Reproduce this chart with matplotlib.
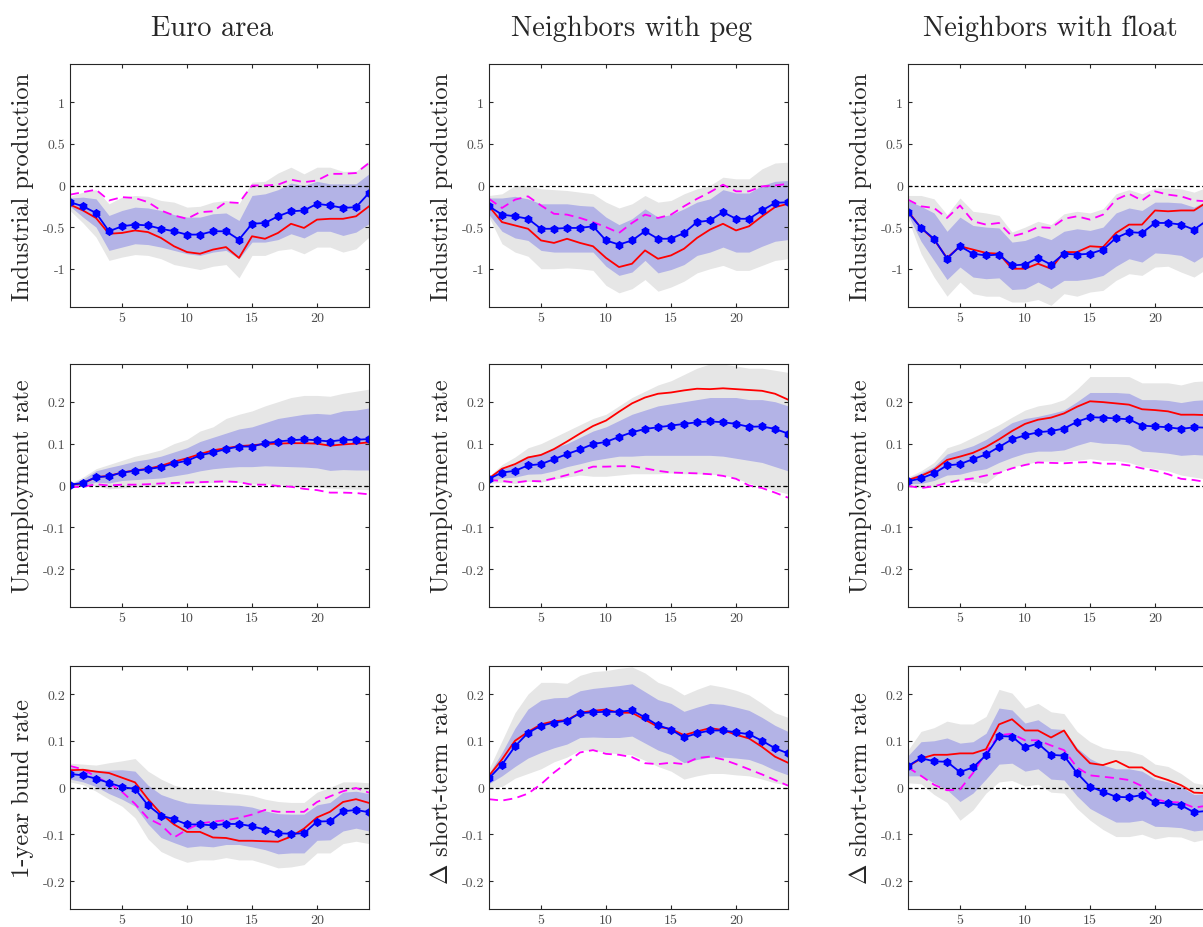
import numpy as np
import matplotlib
matplotlib.use('Agg')
import matplotlib.pyplot as plt

plt.rcParams['font.family'] = 'serif'
plt.rcParams['font.serif'] = ['cmr10']
plt.rcParams['mathtext.fontset'] = 'cm'
plt.rcParams['axes.unicode_minus'] = False
plt.rcParams['axes.formatter.use_mathtext'] = False

h = np.arange(1, 25)

col_titles = ['Euro area', 'Neighbors with peg', 'Neighbors with float']
row_labels = [['Industrial production'] * 3,
              ['Unemployment rate'] * 3,
              ['1-year bund rate', r'$\Delta$ short-term rate', r'$\Delta$ short-term rate']]
row_ylims = [1.46, 0.29, 0.26]
row_yticks = [[-1, -0.5, 0, 0.5, 1], [-0.2, -0.1, 0, 0.1, 0.2], [-0.2, -0.1, 0, 0.1, 0.2]]
xticks = [5, 10, 15, 20]

# ---- Euro area, industrial production
ea_ip_irf = [-0.20, -0.25, -0.33, -0.55, -0.49, -0.47, -0.48, -0.52, -0.55, -0.59, -0.59, -0.55,
             -0.55, -0.65, -0.46, -0.45, -0.37, -0.31, -0.30, -0.22, -0.24, -0.27, -0.26, -0.09]
ea_ip_red = [-0.23, -0.30, -0.39, -0.58, -0.57, -0.54, -0.56, -0.63, -0.73, -0.80, -0.82, -0.77,
             -0.74, -0.87, -0.61, -0.64, -0.57, -0.46, -0.51, -0.41, -0.40, -0.40, -0.37, -0.25]
ea_ip_mag = [-0.11, -0.08, -0.05, -0.18, -0.14, -0.15, -0.20, -0.30, -0.36, -0.40, -0.32, -0.31,
             -0.20, -0.21, 0.00, 0.00, 0.01, 0.07, 0.04, 0.06, 0.14, 0.14, 0.15, 0.27]
ea_ip_hi90 = [-0.13, -0.08, -0.05, -0.22, -0.14, -0.12, -0.13, -0.18, -0.20, -0.26, -0.25, -0.20,
              -0.18, -0.22, 0.04, 0.05, 0.15, 0.22, 0.14, 0.22, 0.22, 0.17, 0.17, 0.30]
ea_ip_lo90 = [-0.30, -0.45, -0.62, -0.90, -0.86, -0.83, -0.84, -0.88, -0.95, -0.98, -1.01, -0.97,
              -0.95, -1.11, -0.84, -0.84, -0.78, -0.76, -0.82, -0.74, -0.74, -0.80, -0.76, -0.62]
ea_ip_hi68 = [-0.15, -0.14, -0.16, -0.36, -0.30, -0.26, -0.27, -0.30, -0.35, -0.38, -0.38, -0.34,
              -0.33, -0.42, -0.12, -0.10, -0.05, 0.03, 0.00, 0.05, 0.02, 0.02, 0.02, 0.14]
ea_ip_lo68 = [-0.25, -0.38, -0.50, -0.78, -0.74, -0.70, -0.71, -0.74, -0.78, -0.82, -0.84, -0.80,
              -0.78, -0.88, -0.68, -0.68, -0.65, -0.58, -0.63, -0.55, -0.55, -0.60, -0.56, -0.46]

# ---- Peg, industrial production
peg_ip_irf = [-0.25, -0.35, -0.37, -0.40, -0.52, -0.52, -0.51, -0.51, -0.49, -0.66, -0.71, -0.66,
              -0.55, -0.64, -0.64, -0.57, -0.44, -0.42, -0.32, -0.40, -0.40, -0.30, -0.21, -0.20]
peg_ip_red = [-0.25, -0.44, -0.48, -0.52, -0.66, -0.69, -0.64, -0.69, -0.73, -0.87, -0.98, -0.94,
              -0.78, -0.88, -0.84, -0.76, -0.63, -0.53, -0.46, -0.54, -0.49, -0.37, -0.26, -0.22]
peg_ip_mag = [-0.16, -0.27, -0.17, -0.13, -0.24, -0.34, -0.35, -0.39, -0.44, -0.50, -0.57, -0.45,
              -0.35, -0.39, -0.35, -0.25, -0.16, -0.08, 0.01, -0.07, -0.07, -0.01, 0.00, 0.02]
peg_ip_hi90 = [-0.12, -0.10, 0.00, 0.00, -0.04, -0.05, -0.06, -0.08, -0.10, -0.20, -0.27, -0.22,
               -0.12, -0.20, -0.18, -0.10, -0.04, 0.00, 0.10, 0.08, 0.08, 0.20, 0.27, 0.28]
peg_ip_lo90 = [-0.38, -0.70, -0.80, -0.85, -1.00, -1.00, -0.99, -1.00, -1.02, -1.20, -1.29, -1.24,
               -1.13, -1.27, -1.22, -1.15, -1.05, -1.00, -0.96, -1.02, -1.02, -0.96, -0.90, -0.88]
peg_ip_hi68 = [-0.15, -0.15, -0.13, -0.16, -0.22, -0.22, -0.22, -0.24, -0.25, -0.38, -0.47, -0.40,
               -0.28, -0.38, -0.35, -0.28, -0.20, -0.16, -0.05, -0.09, -0.09, 0.00, 0.05, 0.06]
peg_ip_lo68 = [-0.35, -0.55, -0.63, -0.66, -0.78, -0.80, -0.80, -0.80, -0.80, -0.97, -1.08, -1.04,
               -0.90, -1.05, -1.01, -0.95, -0.84, -0.80, -0.74, -0.80, -0.80, -0.73, -0.67, -0.65]

# ---- Float, industrial production
flt_ip_irf = [-0.32, -0.51, -0.64, -0.88, -0.73, -0.82, -0.84, -0.83, -0.96, -0.95, -0.87, -0.95,
              -0.82, -0.83, -0.82, -0.77, -0.63, -0.56, -0.57, -0.45, -0.45, -0.47, -0.53, -0.42]
flt_ip_red = [-0.31, -0.51, -0.65, -0.87, -0.73, -0.77, -0.81, -0.82, -1.00, -1.00, -0.94, -1.00,
              -0.80, -0.80, -0.73, -0.74, -0.57, -0.47, -0.47, -0.30, -0.31, -0.30, -0.30, -0.20]
flt_ip_mag = [-0.17, -0.25, -0.27, -0.39, -0.24, -0.43, -0.47, -0.45, -0.61, -0.57, -0.50, -0.51,
              -0.40, -0.37, -0.41, -0.35, -0.17, -0.10, -0.18, -0.07, -0.11, -0.13, -0.18, -0.19]
flt_ip_hi90 = [-0.12, -0.12, -0.16, -0.35, -0.15, -0.31, -0.33, -0.36, -0.56, -0.50, -0.43, -0.47,
               -0.34, -0.31, -0.33, -0.28, -0.10, -0.05, -0.10, -0.03, -0.03, -0.04, -0.08, -0.02]
flt_ip_lo90 = [-0.40, -0.82, -1.10, -1.33, -1.16, -1.30, -1.33, -1.33, -1.40, -1.40, -1.37, -1.44,
               -1.30, -1.33, -1.28, -1.26, -1.14, -1.06, -1.08, -0.98, -0.97, -1.04, -1.10, -1.00]
flt_ip_hi68 = [-0.18, -0.25, -0.33, -0.55, -0.38, -0.48, -0.50, -0.51, -0.68, -0.66, -0.60, -0.65,
               -0.55, -0.52, -0.54, -0.50, -0.33, -0.27, -0.30, -0.20, -0.20, -0.21, -0.26, -0.18]
flt_ip_lo68 = [-0.35, -0.67, -0.90, -1.13, -0.98, -1.10, -1.12, -1.11, -1.25, -1.24, -1.16, -1.24,
               -1.14, -1.14, -1.12, -1.08, -0.97, -0.88, -0.92, -0.81, -0.82, -0.84, -0.92, -0.82]

# ---- Euro area, unemployment
ea_ur_irf = [0.002, 0.006, 0.020, 0.022, 0.031, 0.035, 0.039, 0.044, 0.053, 0.059, 0.072, 0.079,
             0.087, 0.093, 0.093, 0.101, 0.105, 0.108, 0.110, 0.108, 0.105, 0.109, 0.109, 0.111]
ea_ur_red = [0.001, 0.005, 0.020, 0.023, 0.031, 0.036, 0.040, 0.047, 0.057, 0.065, 0.075, 0.084,
             0.089, 0.094, 0.096, 0.099, 0.100, 0.101, 0.101, 0.100, 0.095, 0.098, 0.100, 0.103]
ea_ur_mag = [-0.004, -0.003, 0.003, 0.000, 0.002, 0.002, 0.003, 0.005, 0.006, 0.007, 0.008, 0.009,
             0.010, 0.008, 0.002, 0.002, -0.001, -0.003, -0.008, -0.011, -0.017, -0.017, -0.018, -0.021]
ea_ur_hi90 = [0.005, 0.020, 0.040, 0.050, 0.060, 0.070, 0.077, 0.085, 0.100, 0.110, 0.130, 0.140,
              0.160, 0.170, 0.178, 0.190, 0.200, 0.210, 0.215, 0.215, 0.213, 0.220, 0.225, 0.230]
ea_ur_lo90 = [-0.003, -0.002, 0.000, -0.008, -0.006, -0.004, -0.002, 0.000, 0.002, 0.004, 0.006, 0.007,
              0.008, 0.007, 0.004, 0.004, 0.002, 0.000, -0.002, -0.004, -0.006, -0.008, -0.009, -0.010]
ea_ur_hi68 = [0.004, 0.015, 0.035, 0.043, 0.050, 0.058, 0.063, 0.070, 0.080, 0.090, 0.105, 0.115,
              0.125, 0.135, 0.140, 0.150, 0.160, 0.165, 0.170, 0.172, 0.170, 0.178, 0.180, 0.185]
ea_ur_lo68 = [0.000, 0.000, 0.008, 0.006, 0.012, 0.014, 0.016, 0.018, 0.023, 0.028, 0.035, 0.040,
              0.043, 0.045, 0.045, 0.047, 0.046, 0.045, 0.044, 0.042, 0.036, 0.038, 0.037, 0.037]

# ---- Peg, unemployment
peg_ur_irf = [0.016, 0.031, 0.035, 0.048, 0.051, 0.063, 0.075, 0.086, 0.099, 0.104, 0.116, 0.127,
              0.135, 0.139, 0.143, 0.147, 0.151, 0.153, 0.151, 0.147, 0.140, 0.141, 0.135, 0.124]
peg_ur_red = [0.017, 0.040, 0.051, 0.067, 0.073, 0.087, 0.105, 0.124, 0.142, 0.155, 0.176, 0.196,
              0.210, 0.219, 0.222, 0.227, 0.231, 0.230, 0.232, 0.230, 0.228, 0.226, 0.219, 0.205]
peg_ur_mag = [0.013, 0.011, 0.007, 0.011, 0.010, 0.017, 0.025, 0.035, 0.045, 0.045, 0.046, 0.046,
              0.041, 0.035, 0.031, 0.030, 0.029, 0.027, 0.023, 0.016, 0.000, -0.006, -0.017, -0.029]
peg_ur_hi90 = [0.022, 0.050, 0.068, 0.090, 0.100, 0.115, 0.130, 0.145, 0.160, 0.170, 0.190, 0.210,
               0.225, 0.240, 0.250, 0.265, 0.280, 0.290, 0.290, 0.285, 0.280, 0.280, 0.275, 0.270]
peg_ur_lo90 = [0.005, 0.008, 0.005, 0.010, 0.008, 0.015, 0.020, 0.025, 0.022, 0.022, 0.025, 0.028,
               0.028, 0.028, 0.030, 0.028, 0.028, 0.027, 0.025, 0.018, 0.005, -0.002, -0.012, -0.020]
peg_ur_hi68 = [0.020, 0.040, 0.050, 0.070, 0.075, 0.090, 0.100, 0.115, 0.130, 0.140, 0.155, 0.170,
               0.180, 0.190, 0.195, 0.200, 0.205, 0.210, 0.210, 0.210, 0.205, 0.205, 0.200, 0.190]
peg_ur_lo68 = [0.010, 0.018, 0.020, 0.027, 0.028, 0.035, 0.045, 0.052, 0.060, 0.065, 0.070, 0.070,
               0.072, 0.072, 0.072, 0.072, 0.072, 0.072, 0.070, 0.065, 0.060, 0.055, 0.045, 0.035]

# ---- Float, unemployment
flt_ur_irf = [0.010, 0.017, 0.029, 0.048, 0.051, 0.063, 0.074, 0.092, 0.110, 0.120, 0.127, 0.130,
              0.136, 0.152, 0.163, 0.162, 0.160, 0.158, 0.143, 0.141, 0.139, 0.135, 0.139, 0.138]
flt_ur_red = [0.013, 0.023, 0.037, 0.061, 0.069, 0.078, 0.092, 0.110, 0.130, 0.147, 0.157, 0.162,
              0.172, 0.188, 0.201, 0.199, 0.196, 0.193, 0.182, 0.180, 0.177, 0.169, 0.169, 0.168]
flt_ur_mag = [-0.001, -0.006, -0.002, 0.006, 0.013, 0.017, 0.024, 0.030, 0.041, 0.049, 0.055, 0.054,
              0.053, 0.055, 0.056, 0.052, 0.052, 0.048, 0.041, 0.035, 0.027, 0.016, 0.013, 0.008]
flt_ur_hi90 = [0.020, 0.035, 0.055, 0.090, 0.100, 0.115, 0.130, 0.145, 0.163, 0.180, 0.190, 0.195,
               0.205, 0.230, 0.260, 0.260, 0.260, 0.260, 0.245, 0.245, 0.245, 0.240, 0.248, 0.250]
flt_ur_lo90 = [0.000, -0.005, 0.000, 0.008, 0.013, 0.010, 0.005, 0.030, 0.045, 0.050, 0.058, 0.058,
               0.058, 0.060, 0.064, 0.060, 0.060, 0.055, 0.045, 0.040, 0.035, 0.025, 0.020, 0.015]
flt_ur_hi68 = [0.017, 0.030, 0.045, 0.075, 0.085, 0.095, 0.110, 0.130, 0.150, 0.160, 0.165, 0.172,
               0.180, 0.200, 0.222, 0.222, 0.222, 0.220, 0.205, 0.205, 0.203, 0.198, 0.203, 0.205]
flt_ur_lo68 = [0.004, 0.005, 0.012, 0.025, 0.027, 0.035, 0.040, 0.055, 0.067, 0.077, 0.082, 0.082,
               0.085, 0.096, 0.105, 0.101, 0.100, 0.097, 0.082, 0.080, 0.077, 0.072, 0.074, 0.072]

# ---- Euro area, 1-year bund rate
ea_sr_irf = [0.029, 0.026, 0.019, 0.010, 0.001, -0.003, -0.038, -0.060, -0.068, -0.079, -0.079, -0.081,
             -0.078, -0.078, -0.083, -0.090, -0.098, -0.099, -0.098, -0.073, -0.072, -0.051, -0.048, -0.053]
ea_sr_red = [0.037, 0.038, 0.034, 0.031, 0.021, 0.011, -0.025, -0.056, -0.079, -0.095, -0.095, -0.107,
             -0.108, -0.114, -0.114, -0.115, -0.116, -0.105, -0.088, -0.064, -0.052, -0.031, -0.025, -0.033]
ea_sr_mag = [0.046, 0.039, 0.023, 0.009, -0.009, -0.035, -0.066, -0.080, -0.107, -0.090, -0.077, -0.073,
             -0.070, -0.065, -0.058, -0.048, -0.052, -0.052, -0.052, -0.031, -0.019, -0.008, -0.001, -0.011]
ea_sr_hi90 = [0.052, 0.050, 0.048, 0.053, 0.057, 0.062, 0.035, 0.018, 0.005, -0.002, -0.003, -0.005,
              -0.010, -0.013, -0.017, -0.025, -0.030, -0.032, -0.032, -0.010, 0.000, 0.012, 0.012, 0.010]
ea_sr_lo90 = [0.012, 0.006, -0.008, -0.025, -0.040, -0.065, -0.110, -0.137, -0.150, -0.160, -0.155, -0.155,
              -0.150, -0.155, -0.155, -0.163, -0.172, -0.170, -0.165, -0.140, -0.140, -0.120, -0.115, -0.120]
ea_sr_hi68 = [0.043, 0.040, 0.037, 0.037, 0.038, 0.035, 0.005, -0.015, -0.025, -0.033, -0.035, -0.036,
              -0.037, -0.038, -0.042, -0.050, -0.056, -0.057, -0.057, -0.037, -0.032, -0.010, -0.008, -0.013]
ea_sr_lo68 = [0.018, 0.012, 0.002, -0.013, -0.025, -0.040, -0.078, -0.107, -0.118, -0.128, -0.125, -0.127,
              -0.122, -0.122, -0.127, -0.133, -0.142, -0.140, -0.140, -0.113, -0.112, -0.093, -0.087, -0.093]

# ---- Peg, change in short-term rate
peg_sr_irf = [0.020, 0.049, 0.088, 0.117, 0.132, 0.139, 0.143, 0.159, 0.161, 0.162, 0.162, 0.165,
              0.150, 0.133, 0.124, 0.107, 0.116, 0.122, 0.122, 0.118, 0.114, 0.100, 0.084, 0.073]
peg_sr_red = [0.025, 0.060, 0.100, 0.119, 0.135, 0.142, 0.144, 0.160, 0.164, 0.167, 0.160, 0.160,
              0.145, 0.130, 0.125, 0.112, 0.120, 0.127, 0.123, 0.113, 0.105, 0.087, 0.066, 0.053]
peg_sr_mag = [-0.025, -0.028, -0.023, -0.013, 0.007, 0.032, 0.053, 0.075, 0.080, 0.072, 0.070, 0.065,
              0.052, 0.050, 0.053, 0.050, 0.063, 0.066, 0.060, 0.050, 0.039, 0.028, 0.016, 0.004]
peg_sr_hi90 = [0.040, 0.100, 0.160, 0.200, 0.225, 0.225, 0.223, 0.240, 0.248, 0.250, 0.255, 0.258,
               0.245, 0.225, 0.215, 0.198, 0.210, 0.220, 0.215, 0.208, 0.198, 0.180, 0.160, 0.150]
peg_sr_lo90 = [0.000, 0.002, 0.020, 0.030, 0.040, 0.055, 0.065, 0.080, 0.080, 0.075, 0.072, 0.070,
               0.058, 0.045, 0.035, 0.018, 0.025, 0.030, 0.030, 0.027, 0.025, 0.018, 0.010, 0.005]
peg_sr_hi68 = [0.030, 0.075, 0.127, 0.168, 0.187, 0.192, 0.193, 0.207, 0.212, 0.215, 0.218, 0.222,
               0.205, 0.188, 0.180, 0.163, 0.172, 0.180, 0.178, 0.172, 0.165, 0.150, 0.133, 0.120]
peg_sr_lo68 = [0.008, 0.025, 0.045, 0.063, 0.075, 0.085, 0.093, 0.107, 0.108, 0.107, 0.107, 0.110,
               0.095, 0.080, 0.070, 0.053, 0.060, 0.065, 0.065, 0.063, 0.060, 0.050, 0.037, 0.027]

# ---- Float, change in short-term rate
flt_sr_irf = [0.046, 0.063, 0.056, 0.055, 0.033, 0.043, 0.069, 0.110, 0.109, 0.086, 0.094, 0.070,
              0.068, 0.031, 0.002, -0.009, -0.020, -0.021, -0.016, -0.032, -0.034, -0.038, -0.053, -0.050]
flt_sr_red = [0.045, 0.062, 0.070, 0.070, 0.073, 0.073, 0.082, 0.135, 0.146, 0.122, 0.122, 0.107,
              0.122, 0.080, 0.052, 0.048, 0.057, 0.043, 0.043, 0.025, 0.016, 0.005, -0.011, -0.012]
flt_sr_mag = [0.043, 0.025, 0.006, -0.006, -0.004, 0.031, 0.075, 0.112, 0.115, 0.101, 0.101, 0.090,
              0.080, 0.043, 0.026, 0.023, 0.020, 0.016, 0.003, -0.025, -0.031, -0.032, -0.043, -0.039]
flt_sr_hi90 = [0.080, 0.120, 0.128, 0.142, 0.136, 0.136, 0.152, 0.210, 0.202, 0.170, 0.180, 0.162,
               0.158, 0.120, 0.098, 0.085, 0.080, 0.078, 0.070, 0.050, 0.045, 0.030, 0.010, 0.005]
flt_sr_lo90 = [0.010, 0.008, -0.015, -0.032, -0.070, -0.048, -0.012, 0.012, 0.015, 0.003, 0.007, -0.010,
               -0.012, -0.045, -0.070, -0.090, -0.105, -0.105, -0.100, -0.110, -0.105, -0.106, -0.116, -0.110]
flt_sr_hi68 = [0.068, 0.098, 0.100, 0.106, 0.095, 0.098, 0.116, 0.170, 0.166, 0.138, 0.145, 0.126,
               0.124, 0.085, 0.062, 0.048, 0.040, 0.040, 0.035, 0.018, 0.012, 0.002, -0.015, -0.013]
flt_sr_lo68 = [0.025, 0.025, 0.010, -0.005, -0.030, -0.012, 0.018, 0.050, 0.052, 0.035, 0.040, 0.018,
               0.016, -0.018, -0.045, -0.060, -0.074, -0.074, -0.070, -0.083, -0.084, -0.086, -0.093, -0.090]

panels = [
    [(ea_ip_irf, ea_ip_red, ea_ip_mag, ea_ip_hi90, ea_ip_lo90, ea_ip_hi68, ea_ip_lo68),
     (peg_ip_irf, peg_ip_red, peg_ip_mag, peg_ip_hi90, peg_ip_lo90, peg_ip_hi68, peg_ip_lo68),
     (flt_ip_irf, flt_ip_red, flt_ip_mag, flt_ip_hi90, flt_ip_lo90, flt_ip_hi68, flt_ip_lo68)],
    [(ea_ur_irf, ea_ur_red, ea_ur_mag, ea_ur_hi90, ea_ur_lo90, ea_ur_hi68, ea_ur_lo68),
     (peg_ur_irf, peg_ur_red, peg_ur_mag, peg_ur_hi90, peg_ur_lo90, peg_ur_hi68, peg_ur_lo68),
     (flt_ur_irf, flt_ur_red, flt_ur_mag, flt_ur_hi90, flt_ur_lo90, flt_ur_hi68, flt_ur_lo68)],
    [(ea_sr_irf, ea_sr_red, ea_sr_mag, ea_sr_hi90, ea_sr_lo90, ea_sr_hi68, ea_sr_lo68),
     (peg_sr_irf, peg_sr_red, peg_sr_mag, peg_sr_hi90, peg_sr_lo90, peg_sr_hi68, peg_sr_lo68),
     (flt_sr_irf, flt_sr_red, flt_sr_mag, flt_sr_hi90, flt_sr_lo90, flt_sr_hi68, flt_sr_lo68)],
]

W, H = 1203, 928
fig = plt.figure(figsize=(W / 100, H / 100), dpi=100)

col_left = [70, 489, 908]
row_top = [65, 365, 667]
ax_w, ax_h = 299, 243

for r in range(3):
    for c in range(3):
        irf, red, mag, hi90, lo90, hi68, lo68 = panels[r][c]
        ax = fig.add_axes([col_left[c] / W, 1 - (row_top[r] + ax_h) / H, ax_w / W, ax_h / H])
        ax.fill_between(h, lo90, hi90, color='#e6e6e6', lw=0)
        ax.fill_between(h, lo68, hi68, color='#b3b3e6', lw=0)
        ax.axhline(0, color='k', ls='--', lw=0.9, dashes=(3, 2))
        ax.plot(h, mag, color='#ff00ff', ls='--', lw=1.3, dashes=(5, 3))
        ax.plot(h, red, color='#ff0000', lw=1.3)
        ax.plot(h, irf, color='#0000ff', lw=1.3, marker='o', markersize=4.5)
        ax.plot(h, irf, color='#0000ff', lw=0, marker=(6, 2, 0), markersize=6, mew=1.0)

        ax.set_xlim(1, 24)
        ax.set_ylim(-row_ylims[r], row_ylims[r])
        ax.set_xticks(xticks)
        ax.set_yticks(row_yticks[r])
        ax.set_yticklabels([('%g' % v) for v in row_yticks[r]])
        ax.tick_params(direction='in', top=True, right=True, length=3, width=0.8,
                       labelsize=10, colors='#262626', labelcolor='#4d4d4d')
        for s in ax.spines.values():
            s.set_color('#262626')
            s.set_linewidth(0.8)
        ax.set_ylabel(row_labels[r][c], fontsize=17.7, color='#262626')
        ax.yaxis.set_label_coords(-0.12, 0.5)
        if r == 0:
            t = ax.set_title(col_titles[c], fontsize=20.5, pad=21, color='#262626')
            t.set_x(0.477)

fig.savefig('out.png', dpi=100)
